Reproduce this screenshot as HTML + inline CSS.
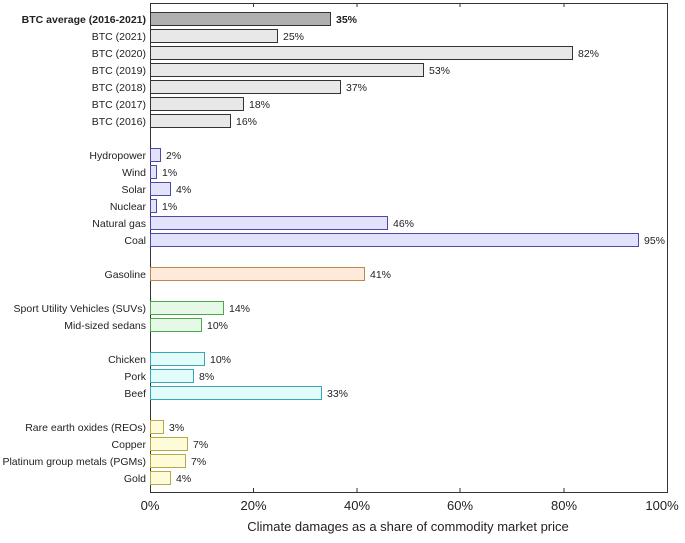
<!DOCTYPE html><html><head><style>body{margin:0;background:#fff}svg{font-family:"Liberation Sans",sans-serif}</style></head><body>
<svg width="685" height="538" xmlns="http://www.w3.org/2000/svg">
<rect x="150.5" y="3.5" width="517" height="489" fill="none" stroke="#333" stroke-width="1"/>
<g stroke="#333"><line x1="253.5" y1="3" x2="253.5" y2="7"/><line x1="357" y1="3" x2="357" y2="7"/><line x1="460" y1="3" x2="460" y2="7"/><line x1="564" y1="3" x2="564" y2="7"/>
<line x1="253.5" y1="492" x2="253.5" y2="488"/><line x1="357" y1="492" x2="357" y2="488"/><line x1="460" y1="492" x2="460" y2="488"/><line x1="564" y1="492" x2="564" y2="488"/></g>
<g font-size="13" fill="#222" text-anchor="middle"><text x="150" y="510">0%</text><text x="253.5" y="510">20%</text><text x="357" y="510">40%</text><text x="460" y="510">60%</text><text x="564" y="510">80%</text><text x="662" y="510">100%</text>
<text x="408" y="531">Climate damages as a share of commodity market price</text></g>
<g font-size="10.5" fill="#222">
<g stroke-width="1">
<rect x="150.5" y="12.5" width="180" height="13" fill="#b0b0b0" stroke="#333"/>
<rect x="150.5" y="29.5" width="127" height="13" fill="#e8e8e8" stroke="#333"/>
<rect x="150.5" y="46.5" width="422" height="13" fill="#e8e8e8" stroke="#333"/>
<rect x="150.5" y="63.5" width="273" height="13" fill="#e8e8e8" stroke="#333"/>
<rect x="150.5" y="80.5" width="190" height="13" fill="#e8e8e8" stroke="#333"/>
<rect x="150.5" y="97.5" width="93" height="13" fill="#e8e8e8" stroke="#333"/>
<rect x="150.5" y="114.5" width="80" height="13" fill="#e8e8e8" stroke="#333"/>
<g fill="#e2e2fb" stroke="#4a4aa8">
<rect x="150.5" y="148.5" width="10" height="13"/><rect x="150.5" y="165.5" width="6" height="13"/><rect x="150.5" y="182.5" width="20" height="13"/><rect x="150.5" y="199.5" width="6" height="13"/><rect x="150.5" y="216.5" width="237" height="13"/><rect x="150.5" y="233.5" width="488" height="13"/></g>
<rect x="150.5" y="267.5" width="214" height="13" fill="#fdeadb" stroke="#c0864a"/>
<g fill="#e6f8e6" stroke="#4aa84a"><rect x="150.5" y="301.5" width="73" height="13"/><rect x="150.5" y="318.5" width="51" height="13"/></g>
<g fill="#e2fbfb" stroke="#3aa6b4"><rect x="150.5" y="352.5" width="54" height="13"/><rect x="150.5" y="369.5" width="43" height="13"/><rect x="150.5" y="386.5" width="171" height="13"/></g>
<g fill="#fdfbd8" stroke="#b8a84a"><rect x="150.5" y="420.5" width="13" height="13"/><rect x="150.5" y="437.5" width="37" height="13"/><rect x="150.5" y="454.5" width="35" height="13"/><rect x="150.5" y="471.5" width="20" height="13"/></g>
</g>
<g text-anchor="end">
<text x="146" y="23" font-weight="bold">BTC average (2016-2021)</text>
<text x="146" y="40">BTC (2021)</text><text x="146" y="57">BTC (2020)</text><text x="146" y="74">BTC (2019)</text><text x="146" y="91">BTC (2018)</text><text x="146" y="108">BTC (2017)</text><text x="146" y="125">BTC (2016)</text>
<text x="146" y="159">Hydropower</text><text x="146" y="176">Wind</text><text x="146" y="193">Solar</text><text x="146" y="210">Nuclear</text><text x="146" y="227">Natural gas</text><text x="146" y="244">Coal</text>
<text x="146" y="278">Gasoline</text>
<text x="146" y="312">Sport Utility Vehicles (SUVs)</text><text x="146" y="329">Mid-sized sedans</text>
<text x="146" y="363">Chicken</text><text x="146" y="380">Pork</text><text x="146" y="397">Beef</text>
<text x="146" y="431">Rare earth oxides (REOs)</text><text x="146" y="448">Copper</text><text x="146" y="465">Platinum group metals (PGMs)</text><text x="146" y="482">Gold</text>
</g>
<text x="336" y="23" font-weight="bold">35%</text>
<text x="283" y="40">25%</text><text x="578" y="57">82%</text><text x="429" y="74">53%</text><text x="346" y="91">37%</text><text x="249" y="108">18%</text><text x="236" y="125">16%</text>
<text x="166" y="159">2%</text><text x="162" y="176">1%</text><text x="176" y="193">4%</text><text x="162" y="210">1%</text><text x="393" y="227">46%</text><text x="644" y="244">95%</text>
<text x="370" y="278">41%</text>
<text x="229" y="312">14%</text><text x="207" y="329">10%</text>
<text x="210" y="363">10%</text><text x="199" y="380">8%</text><text x="327" y="397">33%</text>
<text x="169" y="431">3%</text><text x="193" y="448">7%</text><text x="191" y="465">7%</text><text x="176" y="482">4%</text>
</g>
</svg></body></html>
